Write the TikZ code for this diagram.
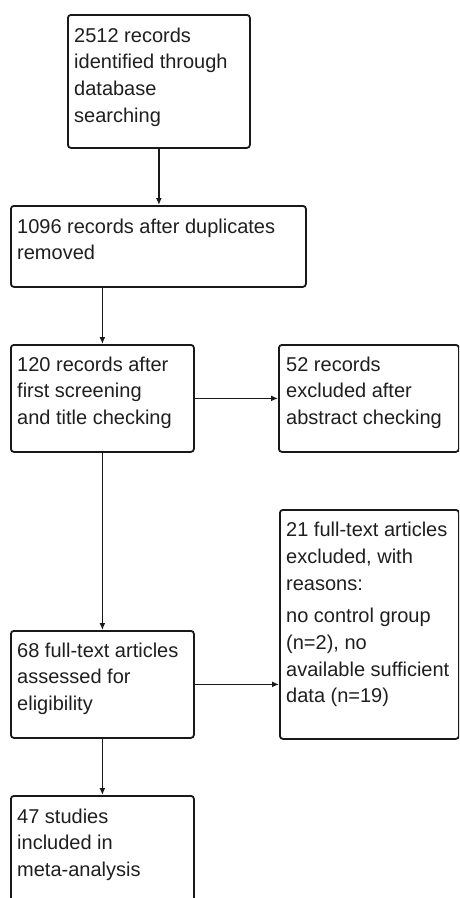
\documentclass[tikz,border=0pt]{standalone}
\usepackage{fontspec}
\setmainfont{Liberation Sans}
\usetikzlibrary{arrows.meta}
\begin{document}
\begin{tikzpicture}[x=1pt,y=-1pt,
  box/.style={draw=black!90, line width=1.8pt, rounded corners=3pt, minimum width=#1, inner sep=0pt},
  txt/.style={anchor=north west, inner sep=0pt, align=left, text=black!88,
    font=\fontsize{20}{26.7}\selectfont},
  arr/.style={draw=black!90, line width=1.8pt, -{Latex[length=7pt,width=6pt]}}]
\clip (0,0) rectangle (459,898);
\fill[white] (0,0) rectangle (459,898);
% boxes
\node[box=182, minimum height=133, anchor=north west] (b1) at (67,14) {};
\node[box=295, minimum height=81, anchor=north west] (b2) at (10,205) {};
\node[box=183, minimum height=107, anchor=north west] (b3) at (10,344) {};
\node[box=180, minimum height=107, anchor=north west] (b4) at (278,344) {};
\node[box=179, minimum height=229, anchor=north west] (b5) at (279,509) {};
\node[box=183, minimum height=107, anchor=north west] (b6) at (10,630) {};
\node[box=183, minimum height=140, anchor=north west] (b7) at (10,795) {};
% texts
\node[txt] (t1) at ([shift={(7,13.5)}]b1.north west) {2512 records\\identified through\\database\\searching};
\node[txt] (t2) at ([shift={(7,13.5)}]b2.north west) {1096 records after duplicates\\removed};
\node[txt] (t3) at ([shift={(7,12.5)}]b3.north west) {120 records after\\first screening\\and title checking};
\node[txt] (t4) at ([shift={(8,12.5)}]b4.north west) {52 records\\excluded after\\abstract checking};
\node[txt] (t5) at ([shift={(7,13)}]b5.north west) {21 full-text articles\\excluded, with\\reasons:\\[6pt]no control group\\(n=2), no\\available sufficient\\data (n=19)};
\node[txt] (t6) at ([shift={(7,12.5)}]b6.north west) {68 full-text articles\\assessed for\\eligibility};
\node[txt] (t7) at ([shift={(7,13.5)}]b7.north west) {47 studies\\included in\\meta-analysis};
% connectors
\draw[arr] (b1.south) -- (b1.south |- b2.north);
\draw[arr] (b3.north |- b2.south) -- (b3.north);
\draw[arr] (b3.east) -- (b4.west);
\draw[arr] (b3.south) -- (b6.north);
\draw[arr] (b6.east) -- (b5.west |- b6.east);
\draw[arr] (b6.south) -- (b7.north);
\end{tikzpicture}
\end{document}
